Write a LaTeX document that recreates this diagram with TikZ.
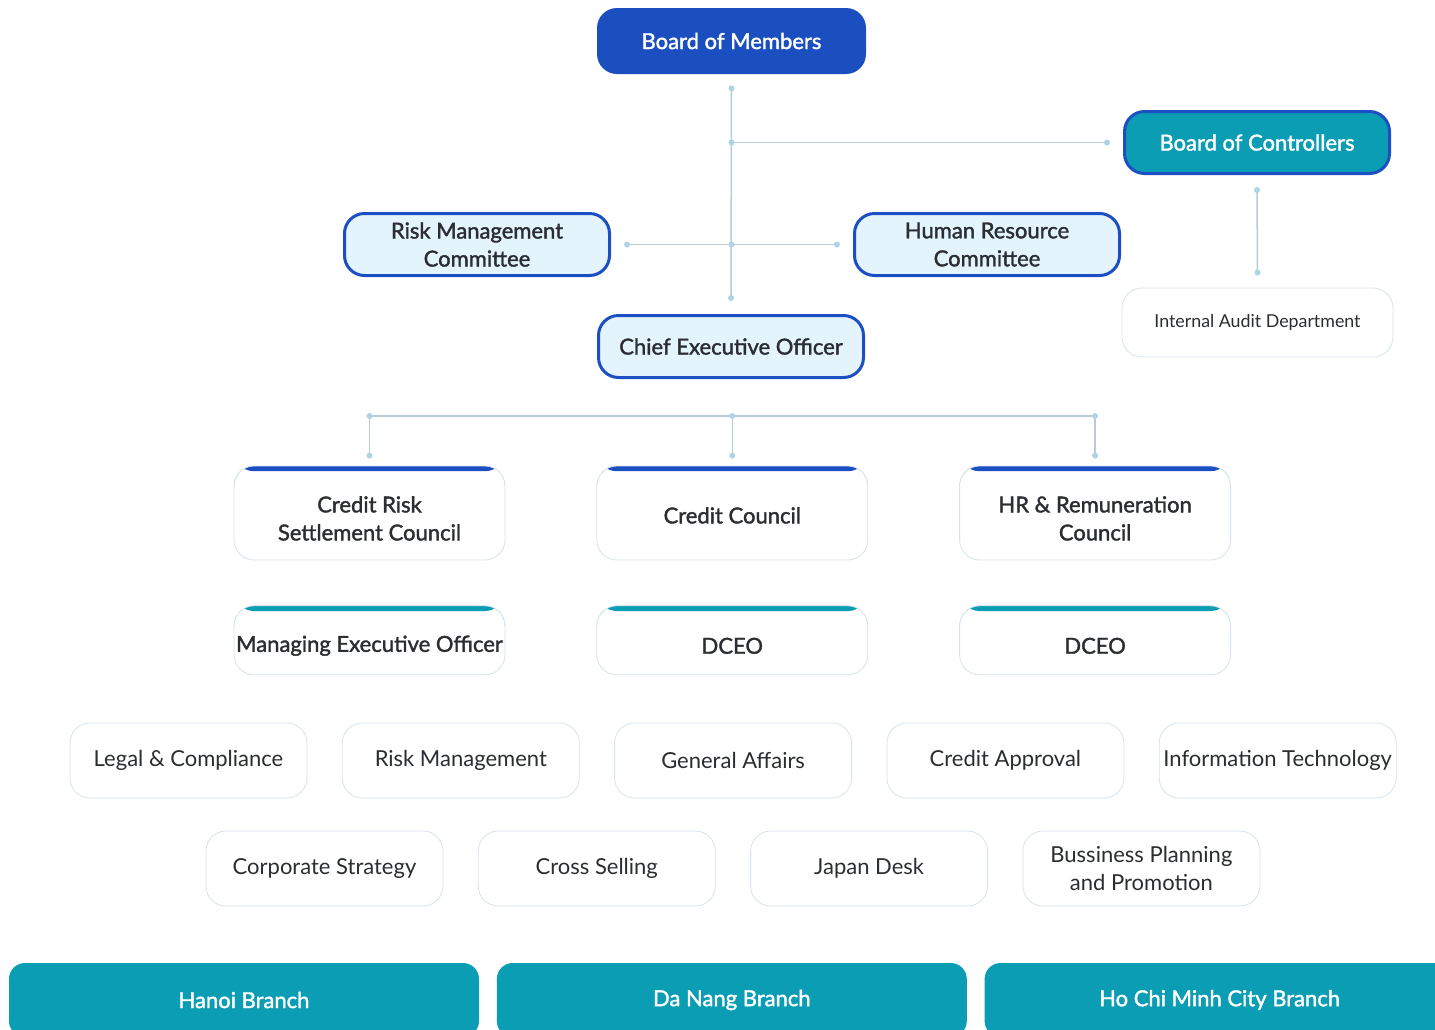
\documentclass[tikz,border=0pt]{standalone}
\usepackage{fontspec}
\setmainfont{Lato}[BoldFont={Lato}, BoldFeatures={FakeBold=1.6}]
\usetikzlibrary{positioning,calc}

\definecolor{boardblue}{HTML}{1B4FBF}
\definecolor{rimblue}{HTML}{1C4FC4}
\definecolor{tealfill}{HTML}{0B9DB3}
\definecolor{palefill}{HTML}{E3F4FD}
\definecolor{softrim}{HTML}{D6E2EE}
\definecolor{linkgrey}{HTML}{B7CBD6}
\definecolor{linkdot}{HTML}{AED3E5}
\definecolor{ink}{HTML}{2A2D31}

\tikzset{
  base/.style={rectangle, rounded corners=10pt, align=center, inner sep=0pt,
    text=ink, font=\fontsize{11}{14}\selectfont\bfseries},
  board/.style={base, fill=boardblue, text=white, minimum width=134.5pt, minimum height=33pt},
  ctrl/.style={base, fill=tealfill, draw=rimblue, line width=1.5pt, text=white,
    minimum width=132.5pt, minimum height=31pt},
  comm/.style={base, fill=palefill, draw=rimblue, line width=1.5pt,
    minimum width=132.5pt, minimum height=31pt},
  plain/.style={base, fill=white, draw=softrim, line width=0.4pt},
  audit/.style={plain, font=\fontsize{8.9}{10}\selectfont,
    minimum width=135.5pt, minimum height=34.5pt},
  lift/.style={execute at begin node={\rule{0pt}{#1}}},
  topbar/.style={path picture={\fill[#1] (path picture bounding box.north west)
    rectangle ([yshift=-2.6pt]path picture bounding box.north east);}},
  council/.style={plain, topbar=rimblue, minimum width=135.5pt, minimum height=47pt},
  officer/.style={plain, topbar=tealfill, lift=13.5pt, minimum width=135.5pt, minimum height=34.5pt},
  dept/.style={plain, font=\fontsize{11}{14}\selectfont,
    minimum width=118.5pt, minimum height=37.5pt},
  branch/.style={base, fill=tealfill, text=white, rounded corners=8pt,
    minimum width=235pt, minimum height=37pt},
  link/.style={draw=linkgrey, line width=0.75pt},
  dot/.style={circle, fill=linkdot, inner sep=0pt, minimum size=3pt}
}

\begin{document}
\begin{tikzpicture}[x=0.5pt,y=-0.5pt]
\useasboundingbox (0,0) rectangle (1435,1029);
\clip (0,0) rectangle (1435,1029);

% top of the chart
\node [board] (bom) at (731.5,41) {Board of Members};
\node [ctrl] (boc) at (1257,142.5) {Board of Controllers};
\node [comm] (rmc) at (477,244.5) {Risk Management\\Committee};
\node [comm,right=121pt of rmc] (hrc) {Human Resource\\Committee};
\node [comm] (ceo) at (731,346.5) {Chief Executive Officer};
\node [audit] (iad) at (1257.5,322.5) {Internal Audit Department};

% councils
\node [council,lift=27.5pt] (crsc) at (369.5,513) {Credit Risk\\Settlement Council};
\node [council,lift=10.5pt,right=45.5pt of crsc] (cc) {Credit Council};
\node [council,lift=27.5pt,right=45.5pt of cc] (hrrc) {HR \& Remuneration\\Council};

% officers
\node [officer,below=22.5pt of crsc] (meo) {Managing Executive Officer};
\node [officer,below=22.5pt of cc] (dceoa) {DCEO};
\node [officer,below=22.5pt of hrrc] (dceob) {DCEO};

% departments
\node [dept] (legal) at (188.5,760.5) {Legal \& Compliance};
\node [dept,right=17.25pt of legal] (riskm) {Risk Management};
\node [dept,right=17.25pt of riskm] (genaff) {General Affairs};
\node [dept,right=17.25pt of genaff] (credap) {Credit Approval};
\node [dept,right=17.25pt of credap] (infot) {Information Technology};

\node [dept] (corpst) at (324.5,868.5) {Corporate Strategy};
\node [dept,right=17.25pt of corpst] (crosss) {Cross Selling};
\node [dept,right=17.25pt of crosss] (japan) {Japan Desk};
\node [dept,right=17.25pt of japan] (bizplan) {Bussiness Planning\\and Promotion};

% branches
\node [branch] (hanoi) at (244,1000) {Hanoi Branch};
\node [branch,right=8.5pt of hanoi] (danang) {Da Nang Branch};
\node [branch,right=8.5pt of danang] (hcmc) {Ho Chi Minh City Branch};

% connectors
\coordinate (jc) at (bom.south |- boc.west);
\coordinate (jm) at (bom.south |- rmc.east);
\coordinate [below=18.5pt of ceo.south] (jb);
\draw [link] ([yshift=-7pt]bom.south) node[dot]{} -- ([yshift=8pt]ceo.north) node[dot]{};
\draw [link] (jc) node[dot]{} -- ([xshift=-8pt]boc.west) node[dot]{};
\draw [link] ([xshift=8pt]rmc.east) node[dot]{} -- (jm) node[dot]{}
  -- ([xshift=-8pt]hrc.west) node[dot]{};
\draw [link] ([yshift=-7.5pt]boc.south) node[dot]{} -- ([yshift=7.5pt]iad.north) node[dot]{};
\draw [link] (jb -| crsc.north) -- (jb -| hrrc.north);
\foreach \n in {crsc,cc,hrrc}
  \draw [link] (jb -| \n.north) node[dot]{} -- ([yshift=5pt]\n.north) node[dot]{};
\end{tikzpicture}
\end{document}
